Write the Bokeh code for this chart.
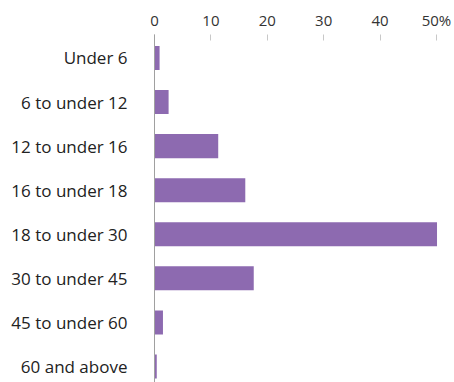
from bokeh.plotting import figure
from bokeh.models import Range1d, FixedTicker, ColumnDataSource
from bokeh.embed import file_html
from bokeh.resources import INLINE

categories = ["Under 6", "6 to under 12", "12 to under 16", "16 to under 18",
              "18 to under 30", "30 to under 45", "45 to under 60", "60 and above"]
shares = [0.9, 2.5, 11.3, 16.1, 50.1, 17.6, 1.5, 0.4]
x_ticks = [0, 10, 20, 30, 40, 50]
x_tick_labels = ["0", "10", "20", "30", "40", "50%"]

positions = list(range(len(categories)))
src = ColumnDataSource(dict(y=positions, v=shares, cat=categories))

p = figure(width=454, height=382, output_backend="svg", toolbar_location=None,
           x_range=Range1d(0, 53.2), y_range=Range1d(7.364, -0.533),
           x_axis_location="above", min_border_left=154, min_border_top=34,
           min_border_right=0, min_border_bottom=0)

p.hbar(y="y", left=0, right="v", height=0.545, source=src,
       fill_color="#8D6AB0", line_color=None)

p.xaxis.ticker = FixedTicker(ticks=x_ticks)
p.xaxis.major_label_overrides = dict(zip(x_ticks, x_tick_labels))
p.xaxis.axis_line_color = None
p.xaxis.major_tick_in = 6
p.xaxis.major_tick_out = 0
p.xaxis.major_tick_line_color = "#c8c8c8"
p.xaxis.minor_tick_line_color = None
p.xaxis.major_label_standoff = 5
p.xaxis.major_label_text_font = "Open Sans"
p.xaxis.major_label_text_font_size = "15px"
p.xaxis.major_label_text_color = "#333333"

p.yaxis.ticker = FixedTicker(ticks=positions)
p.yaxis.major_label_overrides = dict(zip(positions, categories))
p.yaxis.axis_line_color = "#a0a0a0"
p.yaxis.major_tick_line_color = None
p.yaxis.minor_tick_line_color = None
p.yaxis.major_label_standoff = 21
p.yaxis.major_label_text_font = "Open Sans"
p.yaxis.major_label_text_font_size = "17px"
p.yaxis.major_label_text_color = "#222222"

p.xgrid.grid_line_color = None
p.ygrid.grid_line_color = None
p.outline_line_color = None

open("out.html", "w").write(file_html(p, INLINE))
